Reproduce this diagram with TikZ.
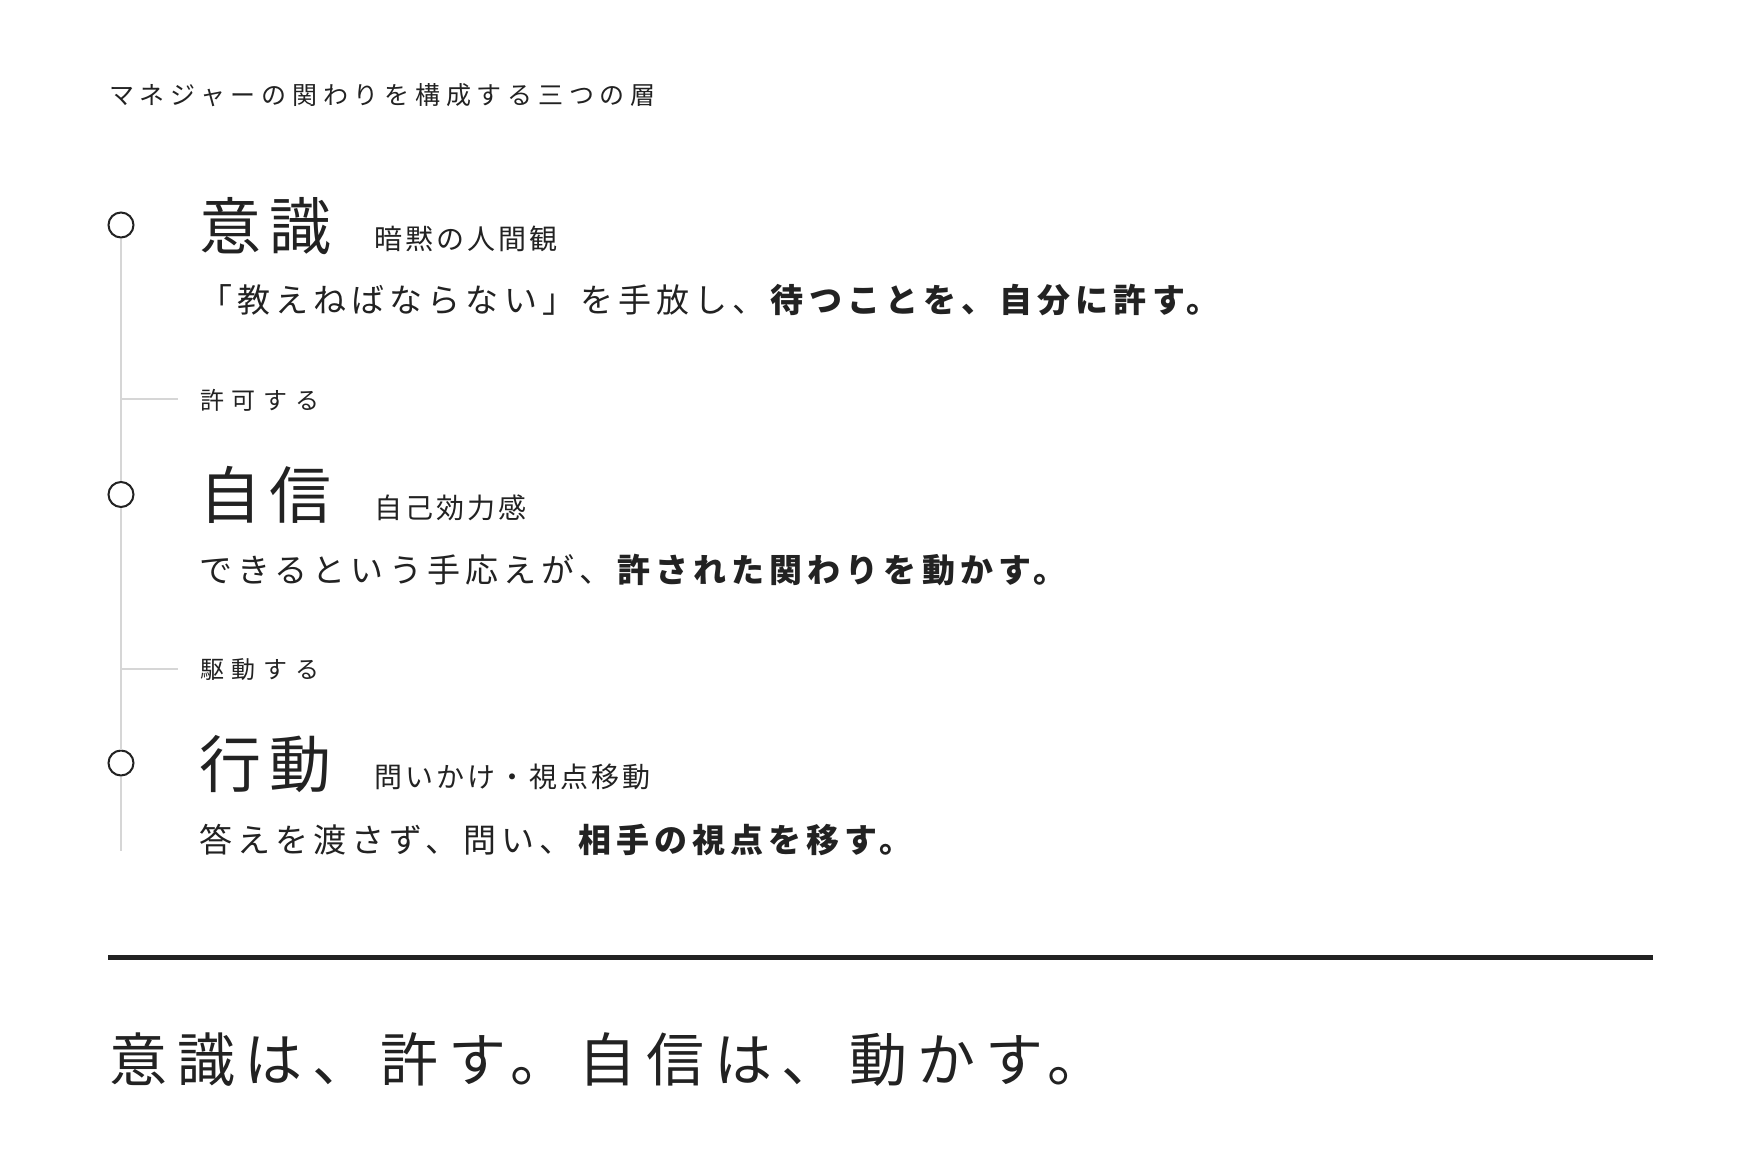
\documentclass[tikz,border=0pt]{standalone}
\usepackage{fontspec}
\setmainfont{Noto Sans CJK JP}
\definecolor{ink}{HTML}{222222}
\definecolor{railgray}{HTML}{D6D6D6}
\newcommand{\spaced}[3]{{\fontsize{#1}{#1}\selectfont\addfontfeatures{LetterSpace=#2}#3}}
\tikzset{
  lbl/.style={anchor=base west, inner sep=0pt, text=ink},
  dot/.style={circle, draw=ink, line width=2pt, fill=white, minimum size=25pt, inner sep=0pt},
  rail/.style={draw=railgray, line width=2pt},
}
\begin{document}
\begin{tikzpicture}[x=1pt,y=-1pt]
        \useasboundingbox[fill=white] (0,0) rectangle (1760,1172);

        % Title
        \node[lbl] (title) at (109,104.5) {\spaced{25}{23}{マネジャーの関わりを構成する三つの層}};

        % Layer markers
        \node[dot] (c1) at (121,225) {};
        \node[dot] (c2) at (121,494.5) {};
        \node[dot] (c3) at (121,763) {};
        \coordinate (railend) at (121,851);
        \draw[rail] (c1.south) -- (c2.north);
        \draw[rail] (c2.south) -- (c3.north);
        \draw[rail] (c3.south) -- (railend);

        % Layer 1
        \node[lbl] (head1) at (199,249) {\spaced{62}{13}{意識}};
        \node[lbl] (sub1) at (374,249) {\spaced{28}{11}{暗黙の人間観}};
        \node[lbl] (body1) at (199,312.5) {\spaced{33}{15.5}{「教えねばならない」を手放し、\textbf{待つことを、自分に許す。}}};

        % Link 1
        \coordinate (t1) at (121,399);
        \coordinate (t1e) at (178,399);
        \draw[rail] (t1) -- (t1e);
        \node[lbl] (link1) at (200,409) {\spaced{24}{32}{許可する}};

        % Layer 2
        \node[lbl] (head2) at (199,518) {\spaced{62}{13}{自信}};
        \node[lbl] (sub2) at (374,518) {\spaced{28}{11}{自己効力感}};
        \node[lbl] (body2) at (199,582.5) {\spaced{33}{15.5}{できるという手応えが、\textbf{許された関わりを動かす。}}};

        % Link 2
        \coordinate (t2) at (121,668.5);
        \coordinate (t2e) at (178,668.5);
        \draw[rail] (t2) -- (t2e);
        \node[lbl] (link2) at (200,678) {\spaced{24}{32}{駆動する}};

        % Layer 3
        \node[lbl] (head3) at (199,787) {\spaced{62}{13}{行動}};
        \node[lbl] (sub3) at (374,787) {\spaced{28}{11}{問いかけ・視点移動}};
        \node[lbl] (body3) at (199,852) {\spaced{33}{15.5}{答えを渡さず、問い、\textbf{相手の視点を移す。}}};

        % Rule and closing line
        \coordinate (ruleL) at (108,957.5);
        \coordinate (ruleR) at (1653,957.5);
        \draw[ink, line width=4.2pt] (ruleL) -- (ruleR);
        \node[lbl] (motto) at (109,1081.5) {\spaced{58}{17}{意識は、許す。自信は、動かす。}};
    \end{tikzpicture}
\end{document}
